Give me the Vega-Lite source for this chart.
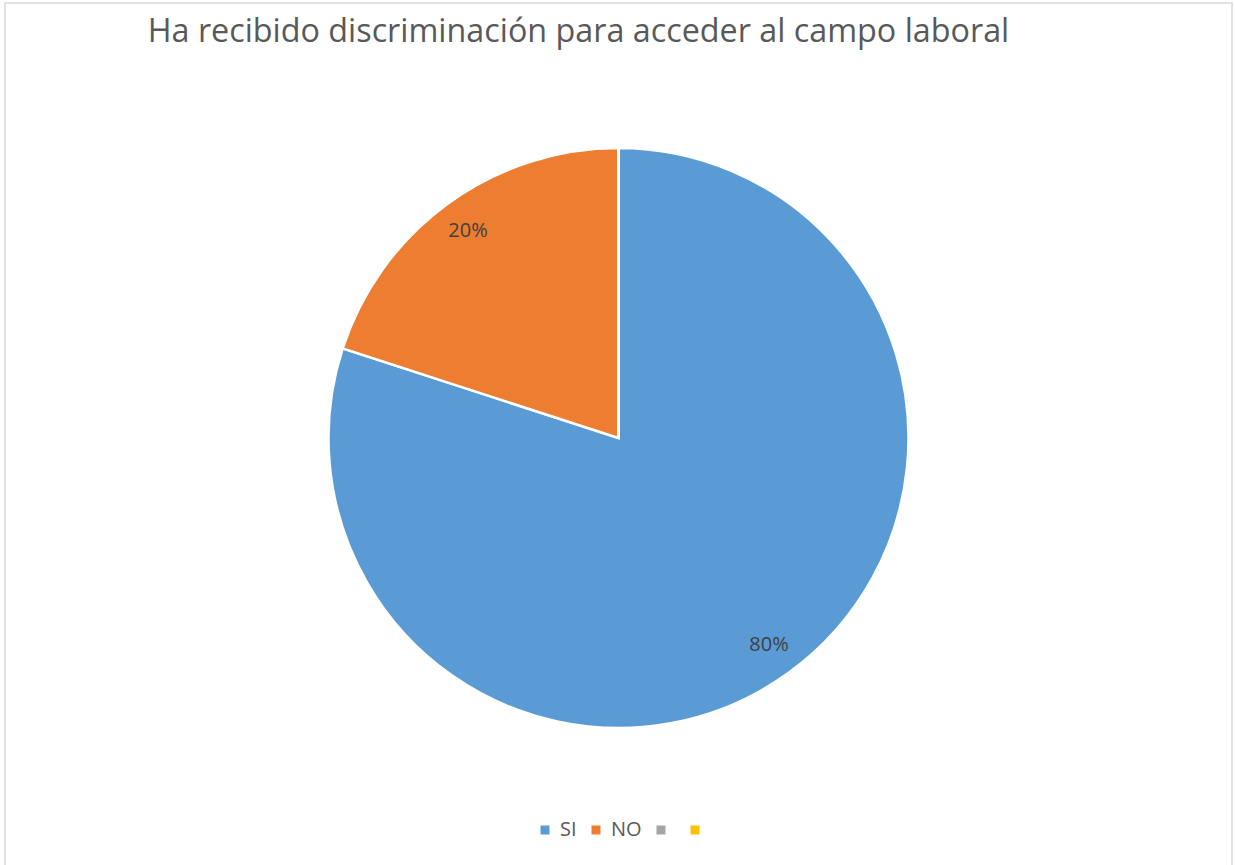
{
  "$schema": "https://vega.github.io/schema/vega-lite/v6.json",
  "width": 1227,
  "height": 864,
  "autosize": {"type": "none"},
  "padding": {"left": 5, "top": 3, "right": 3, "bottom": 0},
  "background": "white",
  "config": {
    "view": {"stroke": null},
    "font": "Open Sans"
  },
  "title": {
    "text": "Ha recibido discriminación para acceder al campo laboral",
    "font": "Open Sans",
    "fontSize": 32.3,
    "fontWeight": "normal",
    "color": "#595959",
    "anchor": "middle",
    "orient": "top",
    "baseline": "alphabetic",
    "offset": -40,
    "dy": 32,
    "dx": -40
  },
  "data": {
    "values": [
      {"respuesta": "SI", "valor": 80, "etiqueta": "80%"},
      {"respuesta": "NO", "valor": 20, "etiqueta": "20%"},
      {"respuesta": "C3", "valor": 0, "etiqueta": ""},
      {"respuesta": "C4", "valor": 0, "etiqueta": ""}
    ]
  },
  "layer": [
    {
      "data": {"values": [{"marco": 1}]},
      "mark": {"type": "rect", "fill": null, "stroke": "#D9D9D9", "strokeWidth": 1.5},
      "encoding": {}
    },
    {
      "mark": {"type": "arc", "outerRadius": 290, "stroke": "white", "strokeWidth": 2.5, "yOffset": 3},
      "encoding": {
        "theta": {"field": "valor", "type": "quantitative", "stack": true},
        "order": {"field": "valor", "type": "quantitative", "sort": "descending"},
        "color": {
          "field": "respuesta",
          "type": "nominal",
          "scale": {
            "domain": ["SI", "NO", "C3", "C4"],
            "range": ["#5B9BD5", "#ED7D31", "#A5A5A5", "#FFC000"]
          },
          "legend": {
            "title": null,
            "orient": "none",
            "direction": "horizontal",
            "legendX": 530,
            "legendY": 817,
            "symbolType": "square",
            "symbolSize": 81,
            "symbolStrokeWidth": 0,
            "labelFontSize": 20,
            "labelFont": "Open Sans",
            "labelColor": "#595959",
            "labelOffset": 5,
            "columnPadding": 9,
            "labelExpr": "datum.label == 'C3' || datum.label == 'C4' ? '' : datum.label"
          }
        }
      }
    },
    {
      "mark": {"type": "text", "radius": 256, "fontSize": 20, "font": "Open Sans", "color": "#404040", "yOffset": 3},
      "encoding": {
        "theta": {"field": "valor", "type": "quantitative", "stack": true},
        "order": {"field": "valor", "type": "quantitative", "sort": "descending"},
        "text": {"field": "etiqueta"}
      }
    }
  ]
}
